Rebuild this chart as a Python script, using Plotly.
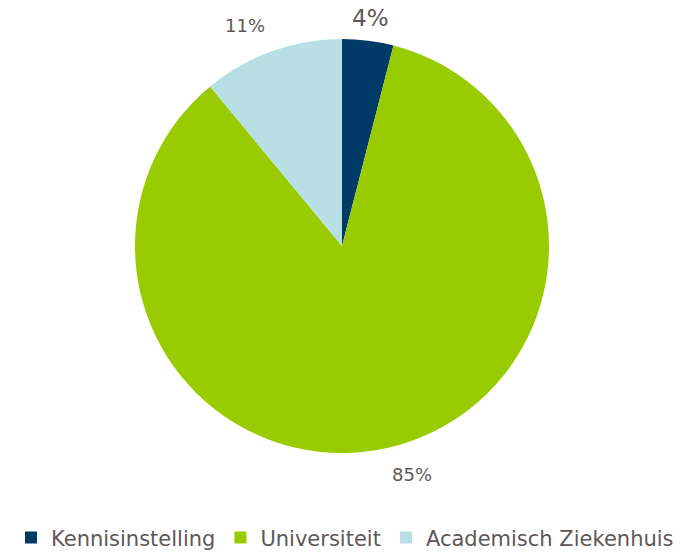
import math
import plotly.graph_objects as go

labels = ["Kennisinstelling", "Universiteit", "Academisch Ziekenhuis"]
values = [4, 85, 11]
colors = ["#003A66", "#99CC00", "#B8DFE4"]
label_texts = ["4%", "85%", "11%"]
label_sizes = [23, 18, 18]

W, H = 674, 546
ML, MR, MT, MB = 2, 8, 31, 101
pw, ph = W - ML - MR, H - MT - MB
cx, cy = ML + pw / 2, MT + ph / 2
R = min(pw, ph) / 2
K = 1.07

fig = go.Figure(go.Pie(
    labels=labels,
    values=values,
    sort=False,
    direction="clockwise",
    rotation=0,
    marker=dict(colors=colors, line=dict(width=0)),
    textinfo="none",
    automargin=False,
    hoverinfo="label+percent",
))

total = sum(values)
cum = 0
annotations = []
for v, t, s in zip(values, label_texts, label_sizes):
    mid = (cum + v / 2) / total * 2 * math.pi
    cum += v
    sx, cyv = math.sin(mid), math.cos(mid)
    if abs(sx) < 0.2:
        dist = R * K + 0.36 * s
        xa, ya = "center", "middle"
    else:
        dist = R * K
        xa = "left" if sx > 0 else "right"
        ya = "bottom" if cyv > 0 else "top"
    X = cx + dist * sx
    Y = cy - dist * cyv
    annotations.append(dict(
        x=(X - ML) / pw, y=(MT + ph - Y) / ph, xref="paper", yref="paper",
        text=t, showarrow=False, xanchor=xa, yanchor=ya,
        font=dict(size=s, color="#5F5757", family="DejaVu Sans"),
    ))

fig.update_layout(
    width=W, height=H,
    margin=dict(l=ML, r=MR, t=MT, b=MB, autoexpand=False),
    paper_bgcolor="white",
    plot_bgcolor="white",
    font=dict(family="DejaVu Sans", color="#5F5757"),
    annotations=annotations,
    showlegend=True,
    legend=dict(
        orientation="h",
        xref="container",
        x=0.5, xanchor="center",
        y=-0.205, yanchor="middle",
        font=dict(size=21, color="#5F5757", family="DejaVu Sans"),
        itemsizing="constant",
        itemwidth=30,
    ),
)

fig.write_html("out.html")
